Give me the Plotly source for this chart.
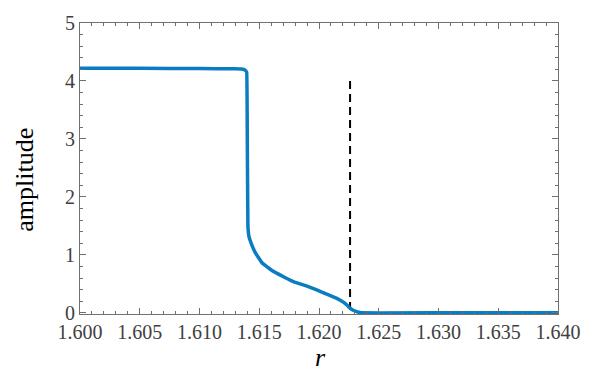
import plotly.graph_objects as go

# Branch of steady-state amplitude versus the control parameter r
r_vals = [1.6000, 1.6050, 1.6100, 1.6130, 1.6135, 1.6138, 1.61395, 1.61400,
          1.61405, 1.61414, 1.61440, 1.61469, 1.61524, 1.61614, 1.61714,
          1.61796, 1.61900, 1.61986, 1.62070, 1.62149, 1.62200, 1.62231,
          1.62260, 1.62290, 1.62353, 1.6300, 1.6350, 1.6400]
amp_vals = [4.22, 4.218, 4.214, 4.21, 4.205, 4.19, 4.15, 3.0,
            1.50, 1.32, 1.16, 1.03, 0.86, 0.72, 0.61,
            0.53, 0.46, 0.39, 0.32, 0.25, 0.19, 0.14,
            0.08, 0.04, 0.0, 0.0, 0.0, 0.0]

# Critical parameter marked by a dashed vertical line
r_crit = 1.6226
crit_y = [4, 0]

x_ticks = [1.600, 1.605, 1.610, 1.615, 1.620, 1.625, 1.630, 1.635, 1.640]
y_ticks = [0, 1, 2, 3, 4, 5]

axis_color = "#707070"
serif = "Liberation Serif"

fig = go.Figure()
fig.add_trace(go.Scatter(
    x=[r_crit, r_crit], y=crit_y, mode="lines",
    line=dict(color="black", width=2, dash="8px,5px"),
    showlegend=False, hoverinfo="skip",
))
fig.add_trace(go.Scatter(
    x=r_vals, y=amp_vals, mode="lines",
    line=dict(color="#0a7dc2", width=3.5, shape="spline", smoothing=0.15),
    showlegend=False,
))

common = dict(
    showline=True, linecolor=axis_color, linewidth=1, mirror="ticks",
    ticks="inside", ticklen=6, tickcolor=axis_color, showgrid=False,
    zeroline=False,
)

fig.update_xaxes(
    range=[1.600, 1.640], tickvals=x_ticks,
    ticktext=[f"{v:.3f}" for v in x_ticks],
    tickfont=dict(family=serif, size=20, color="#404040"),
    minor=dict(dtick=0.001, ticks="inside", ticklen=3, tickcolor=axis_color),
    **common,
)
fig.update_yaxes(
    range=[-0.02, 5], tickvals=y_ticks,
    tickfont=dict(family=serif, size=20, color="#404040"),
    minor=dict(dtick=0.2, ticks="inside", ticklen=3, tickcolor=axis_color),
    **common,
)

# Axis titles
fig.add_annotation(
    text="amplitude", xref="paper", yref="paper", x=-0.116, y=0.46,
    textangle=-90, showarrow=False, xanchor="center", yanchor="middle",
    font=dict(family=serif, size=26, color="black"),
)
fig.add_annotation(
    text="<i>r</i>", xref="paper", yref="paper", x=0.503, y=-0.15,
    showarrow=False, xanchor="center", yanchor="middle",
    font=dict(family=serif, size=26, color="black"),
)

fig.update_layout(
    width=593, height=373,
    margin=dict(l=80, r=23, t=14, b=59),
    plot_bgcolor="white", paper_bgcolor="white",
    font=dict(family=serif),
)

fig.write_html("out.html")
